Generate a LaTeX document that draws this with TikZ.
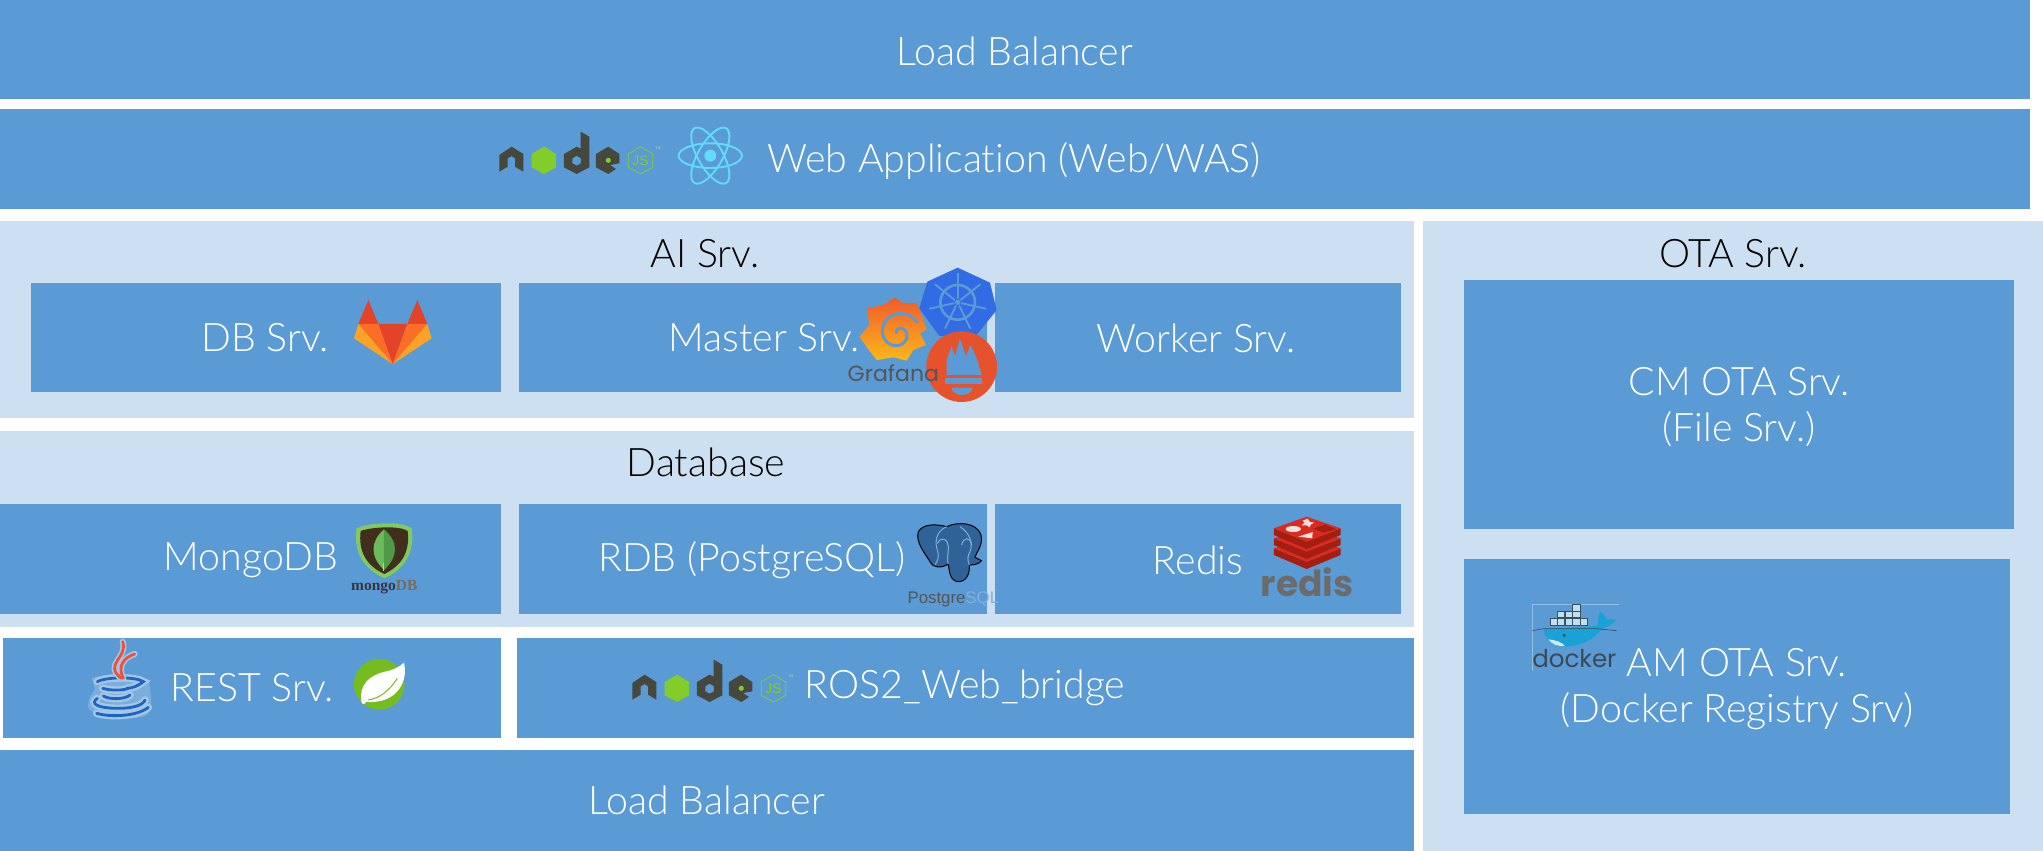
\documentclass[tikz,border=0pt]{standalone}
\usepackage{fontspec}
\setmainfont[Ligatures={NoCommon,NoRequired,NoContextual}]{Lato Light}
\newfontfamily\logosans{Liberation Sans}
\newfontfamily\logoserif{Liberation Serif}
\newfontfamily\logopop{Poppins}
\definecolor{bluebox}{HTML}{5B9BD5}
\definecolor{lightpanel}{HTML}{CDE0F1}
\definecolor{nodedark}{HTML}{46483E}
\definecolor{nodegreen}{HTML}{83CD29}
\definecolor{react}{HTML}{61DAFB}
\definecolor{glred}{HTML}{E24329}
\definecolor{glor}{HTML}{FC6D26}
\definecolor{glye}{HTML}{FCA326}
\definecolor{graftop}{HTML}{F15B2A}
\definecolor{grafbot}{HTML}{FBB81A}
\definecolor{grafgrey}{HTML}{555555}
\definecolor{k8s}{HTML}{326CE5}
\definecolor{prom}{HTML}{E6522C}
\definecolor{mgreen}{HTML}{7FCB5F}
\definecolor{mbrown}{HTML}{412E1C}
\definecolor{leafl}{HTML}{6CBB5A}
\definecolor{leafd}{HTML}{4E9A48}
\definecolor{leafs}{HTML}{C9C9B8}
\definecolor{mbrowntext}{HTML}{3A3340}
\definecolor{mdb}{HTML}{7B6A58}
\definecolor{pgblue}{HTML}{2F6296}
\definecolor{pgline}{HTML}{7FB0DC}
\definecolor{rdark}{HTML}{A41E11}
\definecolor{rred}{HTML}{D82C20}
\definecolor{rgrey}{HTML}{6B6B6B}
\definecolor{jhalo}{HTML}{A5C6E6}
\definecolor{jblue}{HTML}{1B66C0}
\definecolor{jred}{HTML}{F0503A}
\definecolor{sgreen}{HTML}{77BC1F}
\definecolor{dgrey}{HTML}{3A5060}
\definecolor{dbox}{HTML}{BFE0EE}
\definecolor{dwhale}{HTML}{1AA1D6}
\definecolor{ddark}{HTML}{3A4A55}
\definecolor{dbelly}{HTML}{CFE6E8}
\tikzset{
  bar/.style={fill=bluebox},
  panel/.style={fill=lightpanel},
  lab/.style={text=white,inner sep=0pt,align=center,font=\fontsize{39.3}{46}\selectfont},
  labdark/.style={text=black,inner sep=0pt,font=\fontsize{39.3}{46}\selectfont},
  zf/.style={x=0.3333pt,y=-0.3333pt},
}
\newcommand\nodelogo[3]{%
\begin{scope}[zf,shift={(#2pt,-#3pt)}]
\fill[nodedark] (118,165)--(155,140)--(190,162)--(190,215)--(165,200)--(165,175)--(155,168)--(143,175)--(143,200)--(118,215)--cycle;
\fill[nodegreen] (252,140)--(288,162)--(288,202)--(252,222)--(215,202)--(215,162)--cycle;
\fill[nodedark,even odd rule] (312,162)--(350,140)--(362,146)--(362,95)--(388,110)--(388,202)--(350,222)--(312,202)--cycle
  (350,167)--(363,175)--(363,190)--(350,197)--(337,190)--(337,175)--cycle;
\fill[nodedark] (408,162)--(445,140)--(478,162)--(478,190)--(450,195)--(468,207)--(445,222)--(408,202)--cycle;
\fill[nodegreen] (445,173)--(452,177)--(452,185)--(445,189)--(438,185)--(438,177)--cycle;
\draw[nodegreen,line width=0.8pt] (542,140)--(578,162)--(578,202)--(542,222)--(505,202)--(505,162)--cycle;
\node[text=nodegreen,inner sep=0pt,font=\logosans\fontsize{14}{14}\selectfont] (js#1) at (542,182) {JS};
\node[text=nodegreen!60!white,inner sep=0pt,font=\logosans\fontsize{3.5}{4}\selectfont] (tm#1) at (594,146) {TM};
\end{scope}}
\begin{document}
\begin{tikzpicture}[x=1pt,y=-1pt]
\useasboundingbox (0,0) rectangle (2043,851);
\fill[white] (0,0) rectangle (2043,851);
% panels
\fill[panel] (0,221) rectangle (1414,418);
\fill[panel] (0,431) rectangle (1414,627);
\fill[panel] (1423,221) rectangle (2043,851);
% bars
\fill[bar] (0,0) rectangle (2030,99);
\fill[bar] (0,109) rectangle (2030,209);
\fill[bar] (31,283) rectangle (501,392);
\fill[bar] (519,283) rectangle (987,392);
\fill[bar] (995,283) rectangle (1401,392);
\fill[bar] (0,504) rectangle (501,614);
\fill[bar] (519,504) rectangle (987,614);
\fill[bar] (995,504) rectangle (1401,614);
\fill[bar] (3,638) rectangle (501,738);
\fill[bar] (517,638) rectangle (1414,738);
\fill[bar] (0,750) rectangle (1414,851);
\fill[bar] (1464,280) rectangle (2014,529);
\fill[bar] (1464,559) rectangle (2010,814);
% labels
\node[lab] (lbtop) at (1015,51) {Load Balancer};
\node[lab] (web) at (1014,161) {Web Application (Web/WAS)};
\node[labdark] (ai) at (705,254) {AI Srv.};
\node[labdark] (ota) at (1733,254) {OTA Srv.};
\node[lab] (dbsrv) at (265,338) {DB Srv.};
\node[lab] (master) at (764,338) {Master Srv.};
\node[lab] (worker) at (1196,338) {Worker Srv.};
\node[labdark] (database) at (706,462) {Database};
\node[lab] (mongo) at (251,560) {MongoDB};
\node[lab] (rdb) at (752,560) {RDB (PostgreSQL)};
\node[lab] (redis) at (1198,560) {Redis};
\node[lab] (rest) at (252,688) {REST Srv.};
\node[lab] (ros) at (965,688) {ROS2\_Web\_bridge};
\node[lab] (lbbot) at (707,800) {Load Balancer};
\node[lab] (cm) at (1739,407) {CM OTA Srv.\\(File Srv.)};
\node[lab] (am) at (1737,689) {AM OTA Srv.\\(Docker Registry Srv)};
% node logos
\nodelogo{a}{460}{100}
\nodelogo{b}{593}{628}
% react
\begin{scope}[zf,shift={(460pt,-100pt)}]
\foreach \a in {0,60,120}
  \draw[react,line width=1.9pt,rotate around={\a:(751,167)}] (751,167) ellipse (95 and 37);
\fill[react] (751,167) circle (18);
\end{scope}
% gitlab
\begin{scope}[zf,shift={(320pt,-250pt)}]
\fill[glred] (145,150)--(115,222)--(175,222)--cycle;
\fill[glred] (292,150)--(262,222)--(322,222)--cycle;
\fill[glred] (175,222)--(262,222)--(218,342)--cycle;
\fill[glor] (115,222)--(175,222)--(218,342)--cycle;
\fill[glor] (262,222)--(322,222)--(218,342)--cycle;
\fill[glye] (115,222)--(102,265)--(218,342)--cycle;
\fill[glye] (322,222)--(335,265)--(218,342)--cycle;
\end{scope}
% grafana
\begin{scope}[zf,shift={(780pt,-250pt)}]
\shade[top color=graftop,bottom color=grafbot,line join=round]
 (345,142)--(365,158)--(410,160)--(425,195)--(440,238)--(420,250)--(438,285)--(400,300)--(380,332)--(340,322)--(290,330)--(265,298)--(238,260)--(268,225)--(260,175)--(310,165)--cycle;
\draw[bluebox,line width=3pt,line cap=round] plot[domain=200:690,samples=90] ({355+(5+(\x-200)*0.125)*cos(\x)},{250+(5+(\x-200)*0.125)*sin(\x)});
% kubernetes
\fill[k8s,line join=round] (533,53)--(630,98)--(650,180)--(590,255)--(478,258)--(418,175)--(442,95)--cycle;
\draw[bluebox,line width=2.6pt] (533,157) circle (52);
\fill[bluebox] (533,157) circle (8);
\foreach \k in {0,...,6}
  \draw[bluebox,line width=1.9pt,line cap=round] (533,157)++({-90+\k*360/7}:12) -- ++({-90+\k*360/7}:74);
% prometheus
\fill[prom] (545,350) circle (106);
\fill[bluebox] (500,375)--(500,330)--(515,288)--(525,318)--(540,265)--(558,318)--(572,285)--(590,325)--(605,375)--cycle;
\fill[bluebox] (495,383) rectangle (607,403);
\fill[bluebox] (515,413) -- (578,413) arc[start angle=0,end angle=180,x radius=31.5,y radius=22] -- cycle;
\node[text=grafgrey,inner sep=0pt,font=\logopop\fontsize{22}{22}\selectfont] (grafana) at (340,370) {Grafana};
\end{scope}
% mongodb
\begin{scope}[zf,shift={(320pt,-500pt)}]
\fill[mgreen] (110,85) .. controls (140,70) and (240,60) .. (275,85) .. controls (285,150) and (260,205) .. (193,235) .. controls (125,205) and (100,150) .. (110,85) -- cycle;
\fill[mbrown] (122,93) .. controls (150,82) and (235,75) .. (263,93) .. controls (270,150) and (250,195) .. (193,222) .. controls (135,195) and (115,150) .. (122,93) -- cycle;
\fill[leafl] (192,88) .. controls (150,125) and (150,170) .. (192,210) -- cycle;
\fill[leafd] (192,88) .. controls (236,125) and (236,170) .. (192,210) -- cycle;
\draw[leafs,line width=1pt] (192,190)--(192,212);
\node[inner sep=0pt,font=\logoserif\bfseries\fontsize{15.5}{16}\selectfont] (mongotxt) at (193,262) {\textcolor{mbrowntext}{mongo}\textcolor{mdb}{DB}};
\end{scope}
% postgres
\begin{scope}[zf,shift={(880pt,-500pt)}]
\draw[black,fill=pgblue,line width=1pt,line join=round] (115,95) .. controls (130,70) and (170,72) .. (200,80) .. controls (230,65) and (290,65) .. (303,105) .. controls (310,135) and (290,155) .. (285,172) -- (305,182) .. controls (295,195) and (275,195) .. (268,195) .. controls (270,220) and (260,245) .. (235,245) .. controls (210,243) and (208,215) .. (205,192) .. controls (185,205) and (160,205) .. (150,185) .. controls (135,160) and (105,125) .. (115,95) -- cycle;
\draw[pgline,line width=1pt] (200,80) .. controls (165,95) and (165,130) .. (172,150) .. controls (180,175) and (170,185) .. (165,195);
\draw[pgline,line width=1pt] (172,130) .. controls (185,105) and (205,120) .. (205,140) .. controls (205,165) and (200,180) .. (205,192);
\draw[pgline,line width=1pt] (240,80) .. controls (270,100) and (280,130) .. (270,155) .. controls (262,170) and (262,180) .. (268,195);
\draw[pgline,line width=1pt] (245,135) .. controls (250,110) and (272,110) .. (275,135);
\node[inner sep=0pt,font=\logosans\fontsize{16.8}{17}\selectfont] (pgtxt) at (220,297) {\textcolor{grafgrey}{Postgre}\textcolor{pgline}{SQL}};
% redis
\foreach \o in {60,30,0}{
  \fill[rdark] (1182,85+\o)--(1182,105+\o)--(1280,147+\o)--(1382,105+\o)--(1382,85+\o)--(1280,125+\o)--cycle;
  \fill[rred] (1182,85+\o)--(1280,50+\o)--(1382,85+\o)--(1280,125+\o)--cycle;
}
\fill[white!85!rred] (1240,87) ellipse (23 and 9);
\fill[white!85!rred] (1283,56)--(1290,66)--(1303,68)--(1292,74)--(1290,82)--(1280,76)--(1265,76)--(1274,68)--(1268,62)--cycle;
\fill[white!85!rred] (1255,110)--(1298,96)--(1297,115)--cycle;
\fill[rdark] (1300,86)--(1335,74)--(1368,88)--(1330,98)--cycle;
\node[text=rgrey,inner sep=0pt,font=\logopop\bfseries\fontsize{36}{37}\selectfont] (redistxt) at (1281,248) {redis};
\end{scope}
% java
\begin{scope}[zf,shift={(60pt,-620pt)}]
\fill[jhalo,opacity=0.45] (95,175) .. controls (150,155) and (240,160) .. (268,190) .. controls (275,250) and (280,280) .. (250,290) .. controls (200,300) and (120,300) .. (85,265) .. controls (80,235) and (105,215) .. (105,205) -- cycle;
\foreach \c/\w in {jhalo/7.5pt,jblue/2.8pt}{
 \draw[\c,line width=\w,line cap=round] (112,185) .. controls (140,170) and (230,170) .. (250,185) .. controls (235,198) and (215,205) .. (200,205);
 \draw[\c,line width=\w,line cap=round] (128,205) .. controls (150,212) and (190,212) .. (205,205);
 \draw[\c,line width=\w,line cap=round] (130,228) .. controls (150,240) and (195,238) .. (210,225);
 \draw[\c,line width=\w,line cap=round] (112,235) .. controls (90,250) and (110,265) .. (175,265) .. controls (220,265) and (250,255) .. (255,240);
 \draw[\c,line width=\w,line cap=round] (110,280) .. controls (150,292) and (230,290) .. (265,262);
}
\foreach \c/\w in {jhalo/6pt,jred/2.8pt}{
 \draw[\c,line width=\w,line cap=round] (183,175) .. controls (130,130) and (205,115) .. (188,65);
 \draw[\c,line width=\w,line cap=round] (190,175) .. controls (170,135) and (195,112) .. (224,102);
}
% spring
\fill[sgreen] (958,193) circle (76);
\fill[white] (905,245) .. controls (895,195) and (930,165) .. (975,155) .. controls (1000,150) and (1020,140) .. (1032,128) .. controls (1045,180) and (1015,230) .. (965,242) .. controls (945,248) and (920,246) .. (905,245) -- cycle;
\draw[sgreen,line width=1pt] (925,240) .. controls (960,235) and (990,210) .. (1012,175);
\fill[white] (911,245) circle (7);
\end{scope}
% docker
\begin{scope}[zf,shift={(1500pt,-590pt)}]
\draw[white!35!bluebox,line width=0.3pt] (358,43)--(95,43)--(95,243);
\foreach \px/\py in {150/85,172/85,195/85,218/85,240/85,172/63,195/63,218/63,218/43}
  \draw[dgrey,fill=dbox,line width=0.5pt] (\px,\py) rectangle ++(22,20);
\fill[dwhale] (130,118) -- (290,108) .. controls (300,100) and (290,80) .. (300,65) .. controls (315,75) and (320,85) .. (320,90) .. controls (335,85) and (345,88) .. (348,92) .. controls (335,105) and (315,112) .. (305,118) .. controls (280,150) and (240,170) .. (190,170) .. controls (150,168) and (135,145) .. (130,118) -- cycle;
\draw[ddark,line width=0.6pt] (97,122)--(130,116)--(290,116)--(350,122);
\fill[dbelly] (145,148) .. controls (165,150) and (185,155) .. (195,168) .. controls (170,170) and (155,162) .. (145,148) -- cycle;
\fill[ddark] (192,136) circle (5);
\node[text=ddark,inner sep=0pt,font=\logopop\fontsize{24.5}{26}\selectfont] (dockertxt) at (223,207) {docker};
\end{scope}
\end{tikzpicture}
\end{document}
